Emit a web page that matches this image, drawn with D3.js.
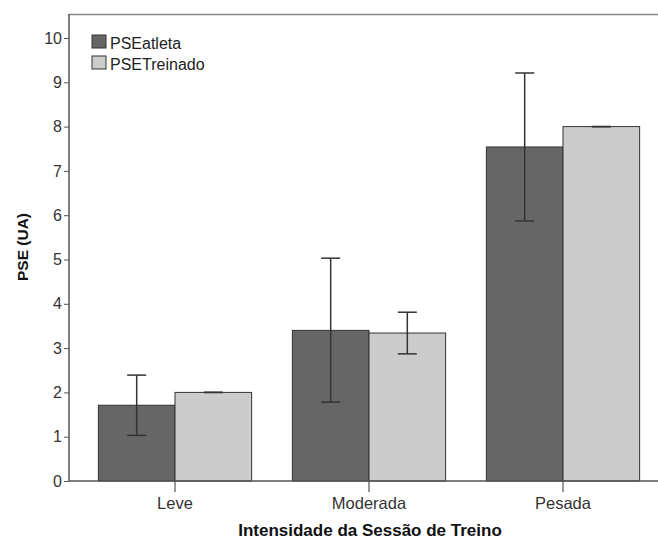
<!DOCTYPE html>
<html>
<head>
<meta charset="utf-8">
<script src="https://cdn.jsdelivr.net/npm/d3@7"></script>
<style>
  body { margin: 0; background: #fff; }
  svg { display: block; font-family: "Liberation Sans", Arial, sans-serif; }
</style>
</head>
<body>
<svg id="chart" width="658" height="542"></svg>
<script>
// dados
const categories = ['Leve', 'Moderada', 'Pesada'];
const series = ['PSEatleta', 'PSETreinado'];
const atletaMean = [1.71, 3.40, 7.54];
const atletaLow = [1.03, 1.78, 5.87];
const atletaHigh = [2.39, 5.03, 9.21];
const treinadoMean = [2.0, 3.34, 8.0];
const treinadoLow = [2.0, 2.87, 8.0];
const treinadoHigh = [2.0, 3.81, 8.0];
const yTicks = [0, 1, 2, 3, 4, 5, 6, 7, 8, 9, 10];
const colors = ['#666666', '#cccccc'];

const rows = categories.map((c, i) => ({
    cat: c,
    bars: [
        { s: series[0], v: atletaMean[i], lo: atletaLow[i], hi: atletaHigh[i] },
        { s: series[1], v: treinadoMean[i], lo: treinadoLow[i], hi: treinadoHigh[i] }
    ]
}));

const svg = d3.select('#chart');
const mLeft = 69, mTop = 14, mBottom = 481;

const y = d3.scaleLinear().domain([0, 10]).range([mBottom, 38]);
const x = d3.scaleBand().domain(categories).range([78, 660]).paddingInner(0.21).paddingOuter(0.105);
const xs = d3.scaleBand().domain(series).range([0, x.bandwidth()]);

// moldura
svg.append('line').attr('x1', mLeft).attr('x2', 658).attr('y1', mTop + 0.5).attr('y2', mTop + 0.5)
    .attr('stroke', '#888').attr('stroke-width', 1.5);

const g = svg.append('g');
const groups = g.selectAll('g.cat').data(rows).join('g')
    .attr('class', 'cat')
    .attr('transform', d => `translate(${x(d.cat)},0)`);

groups.selectAll('rect').data(d => d.bars).join('rect')
    .attr('x', d => xs(d.s))
    .attr('y', d => y(d.v))
    .attr('width', xs.bandwidth())
    .attr('height', d => y(0) - y(d.v))
    .attr('fill', (d, i) => colors[i])
    .attr('stroke', '#333')
    .attr('stroke-width', 1);

// barras de erro
const cap = 9.5;
const err = groups.selectAll('g.err').data(d => d.bars).join('g').attr('class', 'err')
    .attr('stroke', '#333').attr('stroke-width', 1.5);
err.append('line')
    .attr('x1', d => xs(d.s) + xs.bandwidth() / 2).attr('x2', d => xs(d.s) + xs.bandwidth() / 2)
    .attr('y1', d => y(d.hi)).attr('y2', d => y(d.lo));
err.append('line')
    .attr('x1', d => xs(d.s) + xs.bandwidth() / 2 - cap).attr('x2', d => xs(d.s) + xs.bandwidth() / 2 + cap)
    .attr('y1', d => y(d.hi)).attr('y2', d => y(d.hi));
err.append('line')
    .attr('x1', d => xs(d.s) + xs.bandwidth() / 2 - cap).attr('x2', d => xs(d.s) + xs.bandwidth() / 2 + cap)
    .attr('y1', d => y(d.lo)).attr('y2', d => y(d.lo));

// eixo y
const yAxis = svg.append('g').attr('transform', `translate(${mLeft},0)`)
    .call(d3.axisLeft(y).tickValues(yTicks).tickSize(5).tickPadding(2).tickFormat(d3.format('d')));
yAxis.select('.domain').remove();
yAxis.selectAll('line').attr('stroke', '#555');
yAxis.selectAll('text').attr('fill', '#333').style('font-size', '16px');
svg.append('line').attr('x1', mLeft).attr('x2', mLeft).attr('y1', mTop).attr('y2', mBottom)
    .attr('stroke', '#555').attr('stroke-width', 1.5);

// eixo x
const xAxis = svg.append('g').attr('transform', `translate(0,${mBottom})`)
    .call(d3.axisBottom(x).tickSize(11).tickPadding(5));
xAxis.select('.domain').remove();
xAxis.selectAll('line').attr('stroke', '#333');
xAxis.selectAll('text').attr('fill', '#333').style('font-size', '16.5px');
svg.append('line').attr('x1', mLeft).attr('x2', 658).attr('y1', mBottom).attr('y2', mBottom)
    .attr('stroke', '#555').attr('stroke-width', 1.5);

// títulos
svg.append('text').attr('x', 370).attr('y', 536)
    .attr('text-anchor', 'middle').attr('font-weight', 'bold').attr('font-size', 17).attr('fill', '#111')
    .text('Intensidade da Sessão de Treino');
svg.append('text').attr('transform', 'translate(28,247) rotate(-90)')
    .attr('text-anchor', 'middle').attr('font-weight', 'bold').attr('font-size', 15.5).attr('fill', '#111')
    .text('PSE (UA)');

// legenda
const leg = svg.append('g').selectAll('g').data(series).join('g')
    .attr('transform', (d, i) => `translate(92,${35 + i * 21})`);
leg.append('rect').attr('width', 14).attr('height', 13)
    .attr('fill', (d, i) => colors[i]).attr('stroke', '#333');
leg.append('text').attr('x', 18).attr('y', 14).attr('font-size', 16).attr('fill', '#222').text(d => d);
</script>
</body>
</html>
